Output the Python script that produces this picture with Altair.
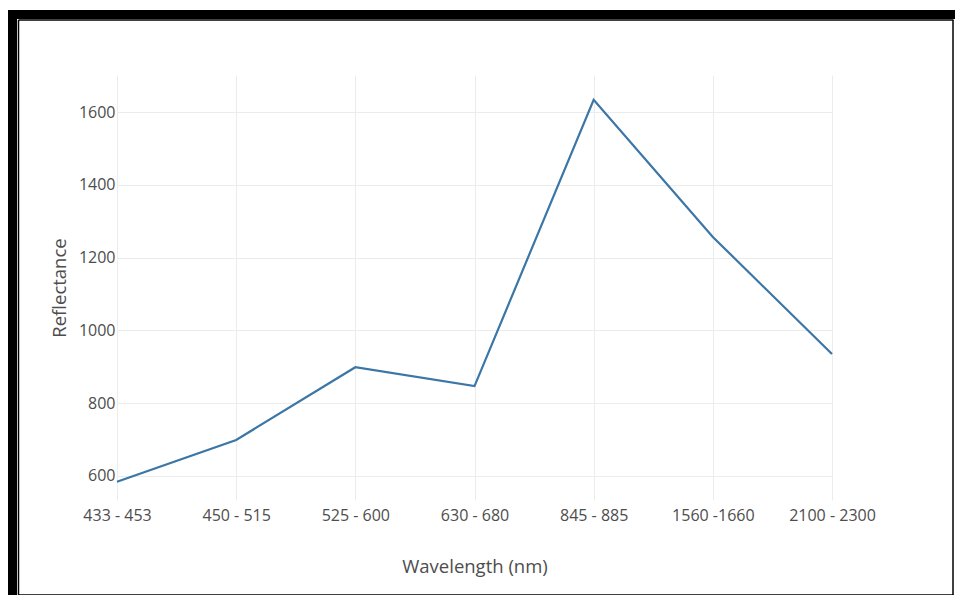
import altair as alt
import pandas as pd

categories = ["433 - 453", "450 - 515", "525 - 600", "630 - 680",
              "845 - 885", "1560 -1660", "2100 - 2300"]
reflectance = [584, 699, 899, 847, 1634, 1257, 935]
y_ticks = [600, 800, 1000, 1200, 1400, 1600]

df = pd.DataFrame({"band": categories, "value": reflectance})

W, H = 715, 425
FONT = "Open Sans"
TXT = "#4d4d4d"

line = alt.Chart(df).mark_line(color="#3b76a6", strokeWidth=2.2, clip=False).encode(
    x=alt.X("band:N", sort=categories,
            scale=alt.Scale(type="point", padding=0),
            axis=alt.Axis(title="Wavelength (nm)", labelAngle=0, ticks=False,
                          domain=False, grid=True, gridColor="#ececec",
                          labelPadding=7, titlePadding=34)),
    y=alt.Y("value:Q", scale=alt.Scale(domain=[534, 1702], nice=False, zero=False),
            axis=alt.Axis(title="Reflectance", values=y_ticks, format="d", ticks=False,
                          domain=False, grid=True, gridColor="#ececec",
                          labelPadding=2, titlePadding=9)),
)

one = alt.Data(values=[{}])
BLACK = "#000000"
frame = [
    alt.Chart(one).mark_rect(color=BLACK).encode(
        x=alt.value(-109), x2=alt.value(-100), y=alt.value(-65), y2=alt.value(540)),
    alt.Chart(one).mark_rect(color=BLACK).encode(
        x=alt.value(-109), x2=alt.value(860), y=alt.value(-65), y2=alt.value(-56)),
    alt.Chart(one).mark_rule(color=BLACK, strokeWidth=1.5).encode(
        x=alt.value(-98.5), y=alt.value(-55), y2=alt.value(520.5)),
    alt.Chart(one).mark_rule(color=BLACK, strokeWidth=1.5).encode(
        x=alt.value(-98.5), x2=alt.value(836.5), y=alt.value(-55)),
    alt.Chart(one).mark_rule(color=BLACK, strokeWidth=1.5).encode(
        x=alt.value(836), y=alt.value(-55), y2=alt.value(520.5)),
    alt.Chart(one).mark_rule(color=BLACK, strokeWidth=1.5).encode(
        x=alt.value(-98.5), x2=alt.value(836.5), y=alt.value(520)),
]

chart = alt.layer(line, *frame).properties(
    width=W, height=H,
    autosize=alt.AutoSizeParams(type="none"),
    padding={"left": 109, "top": 67, "right": 123, "bottom": 95},
    background="white",
).configure_view(stroke=None).configure_axis(
    labelFont=FONT, titleFont=FONT, labelFontSize=16, titleFontSize=18.5,
    labelColor=TXT, titleColor=TXT, titleFontWeight="normal",
)

chart.save("out.html", embed_options={"renderer": "svg", "actions": False})
